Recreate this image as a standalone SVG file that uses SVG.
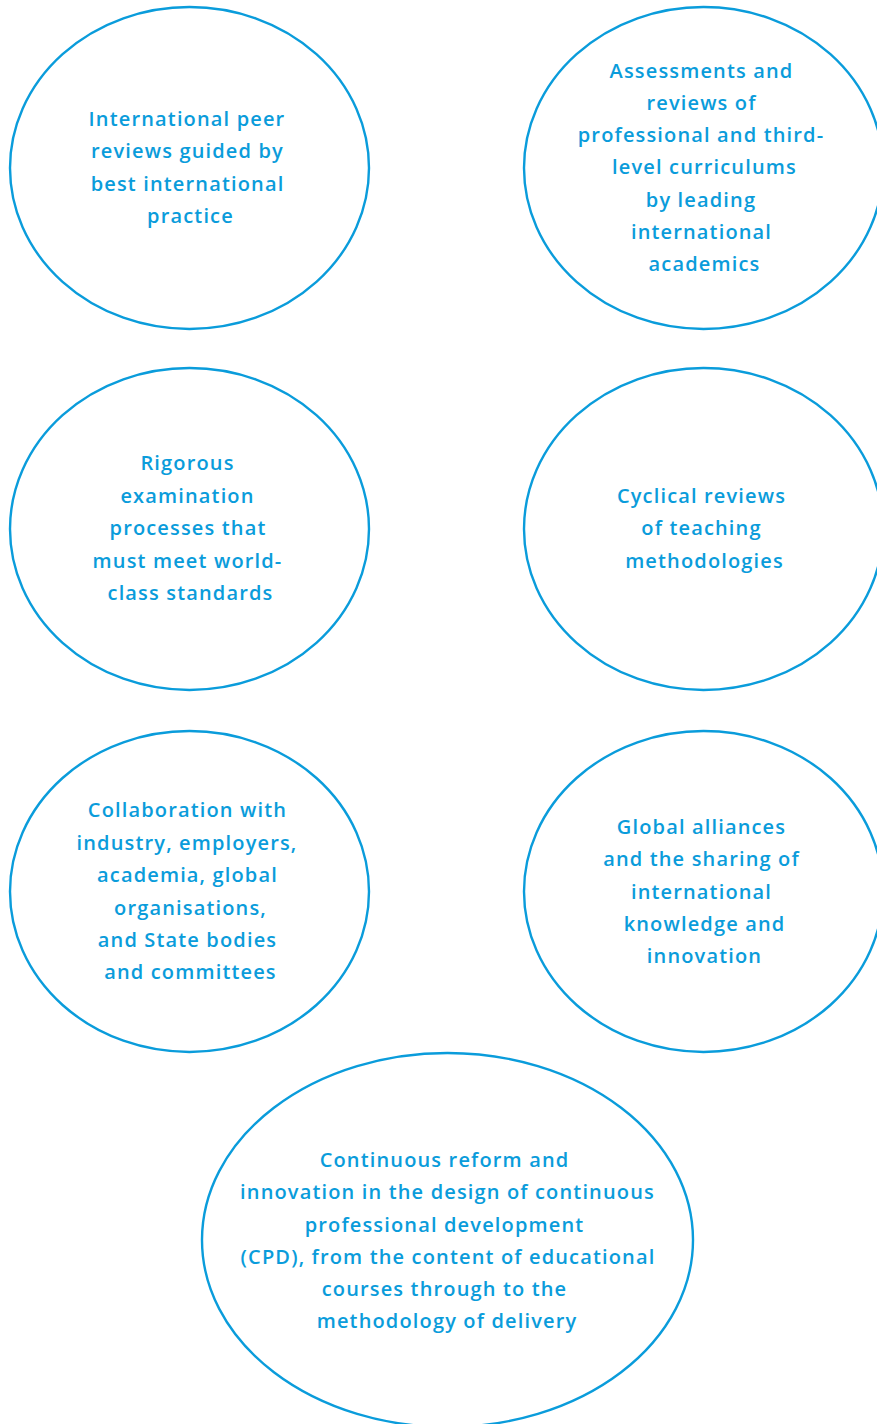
<svg xmlns="http://www.w3.org/2000/svg" width="877" height="1424" viewBox="0 0 877 1424">
<style>
.n{fill:#fff;stroke:#0a9cdb;stroke-width:2.4}
.t{font-family:"Open Sans","Liberation Sans",sans-serif;font-weight:600;font-size:20px;letter-spacing:1.15px;fill:#0a9cdb;text-anchor:middle}
</style>
<rect width="877" height="1424" fill="#fff"/>
<g id="connectors"/>
<g id="n1">
<ellipse class="n" cx="189.5" cy="168" rx="179.5" ry="161"/>
<text class="t"><tspan x="187" y="126">International peer</tspan><tspan x="187.5" y="158">reviews guided by</tspan><tspan x="187.5" y="191">best international</tspan><tspan x="190.5" y="223">practice</tspan></text>
</g>
<g id="n2">
<ellipse class="n" cx="703.5" cy="168" rx="179.5" ry="161"/>
<text class="t"><tspan x="701.5" y="78">Assessments and</tspan><tspan x="701.5" y="110">reviews of</tspan><tspan x="701" y="142">professional and third-</tspan><tspan x="704.5" y="174">level curriculums</tspan><tspan x="701" y="207">by leading</tspan><tspan x="701.5" y="239">international</tspan><tspan x="704.5" y="271">academics</tspan></text>
</g>
<g id="n3">
<ellipse class="n" cx="189.5" cy="529" rx="179.5" ry="161"/>
<text class="t"><tspan x="187.5" y="470">Rigorous</tspan><tspan x="187.5" y="503">examination</tspan><tspan x="188" y="535">processes that</tspan><tspan x="187.5" y="568">must meet world-</tspan><tspan x="190.5" y="600">class standards</tspan></text>
</g>
<g id="n4">
<ellipse class="n" cx="703.5" cy="529" rx="179.5" ry="161"/>
<text class="t"><tspan x="701.5" y="503">Cyclical reviews</tspan><tspan x="701.5" y="535">of teaching</tspan><tspan x="704.5" y="568">methodologies</tspan></text>
</g>
<g id="n5">
<ellipse class="n" cx="189.5" cy="891.5" rx="179.5" ry="160.5"/>
<text class="t"><tspan x="187.5" y="817">Collaboration with</tspan><tspan x="187" y="850">industry, employers,</tspan><tspan x="187.5" y="882">academia, global</tspan><tspan x="190.5" y="915">organisations,</tspan><tspan x="187.5" y="947">and State bodies</tspan><tspan x="190.5" y="979">and committees</tspan></text>
</g>
<g id="n6">
<ellipse class="n" cx="703.5" cy="891.5" rx="179.5" ry="160.5"/>
<text class="t"><tspan x="701.5" y="834">Global alliances</tspan><tspan x="701.5" y="866">and the sharing of</tspan><tspan x="701.5" y="899">international</tspan><tspan x="704.5" y="931">knowledge and</tspan><tspan x="704.5" y="963">innovation</tspan></text>
</g>
<g id="n7">
<ellipse class="n" cx="447.5" cy="1240" rx="245.5" ry="187"/>
<text class="t"><tspan x="444.5" y="1167">Continuous reform and</tspan><tspan x="447.5" y="1199">innovation in the design of continuous</tspan><tspan x="444.5" y="1232">professional development</tspan><tspan x="448" y="1264">(CPD), from the content of educational</tspan><tspan x="444.5" y="1296">courses through to the</tspan><tspan x="447" y="1328">methodology of delivery</tspan></text>
</g>
</svg>
